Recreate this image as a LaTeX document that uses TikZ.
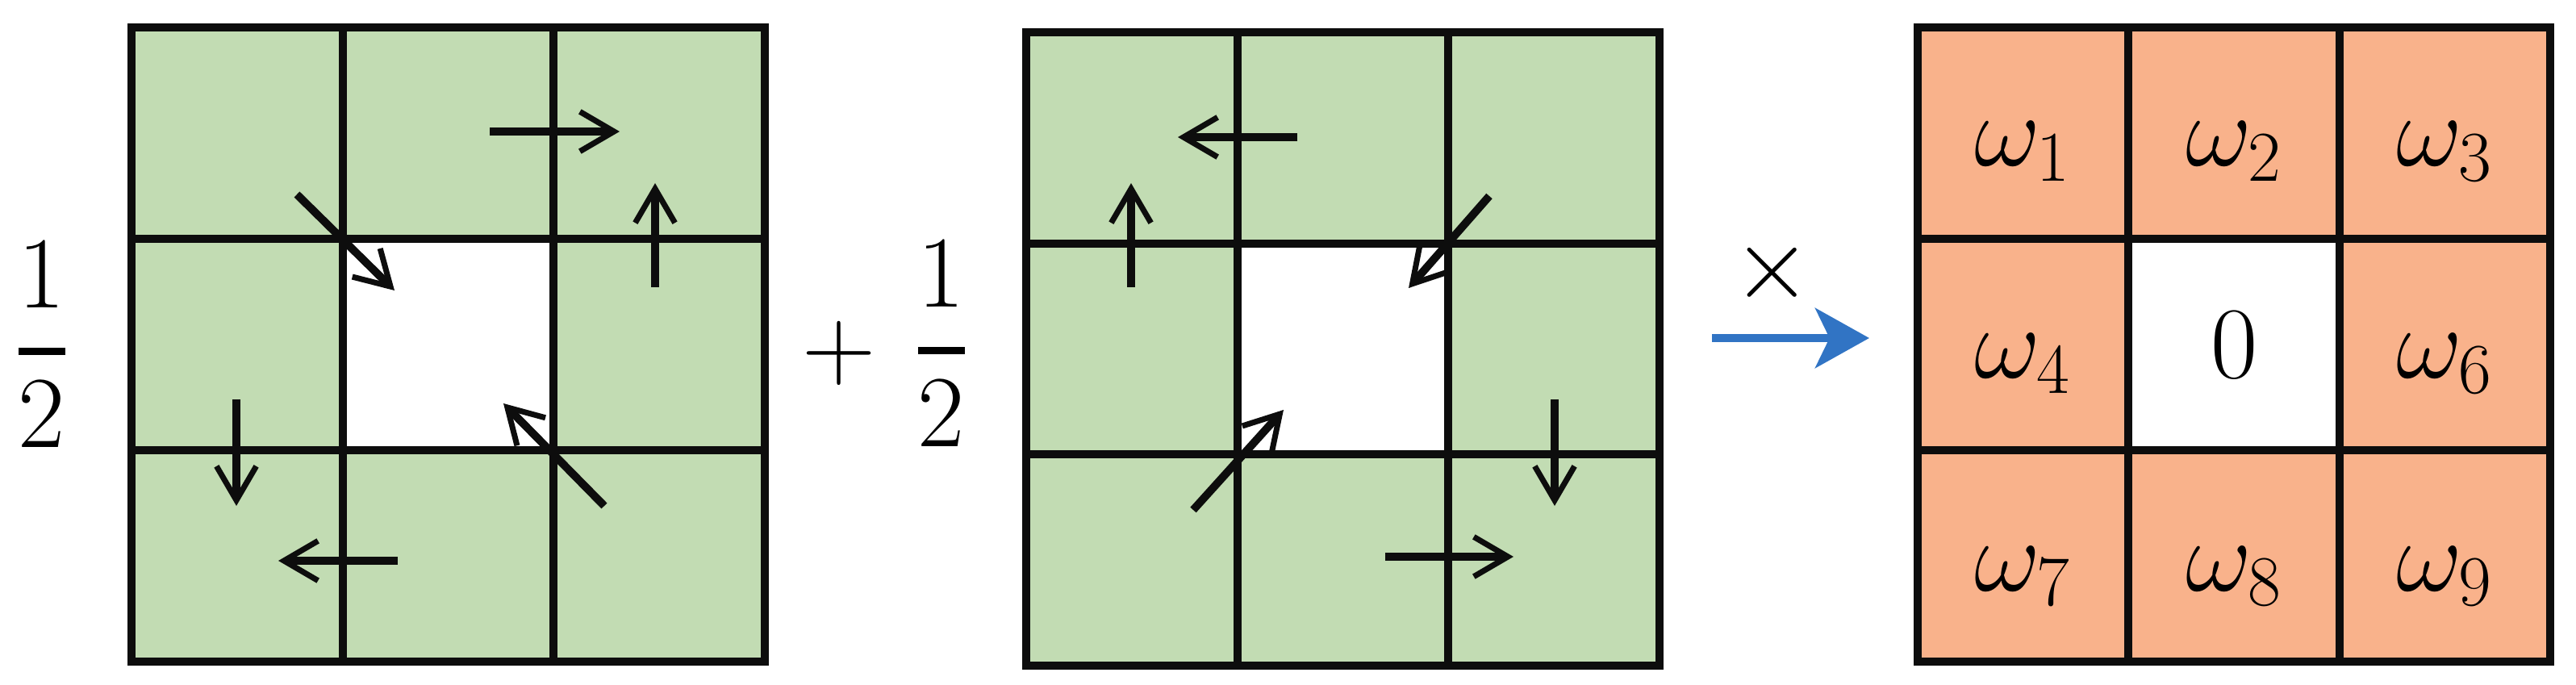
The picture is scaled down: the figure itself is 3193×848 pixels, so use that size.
\RequirePackage{fix-cm}
\documentclass[tikz,border=0pt]{standalone}
\usepackage{amsmath}
\usetikzlibrary{arrows.meta}

\definecolor{cellgreen}{HTML}{C2DCB3}
\definecolor{cellorange}{HTML}{F9B28B}
\definecolor{arrowblue}{HTML}{3174C4}
\definecolor{gridblack}{HTML}{0D0D0D}

\begin{document}
\begin{tikzpicture}[x=0.01cm,y=0.01cm,
  gridline/.style={draw=gridblack,line width=2.9pt},
  movearrow/.style={draw=gridblack,line width=2.8pt,-{Straight Barb[length=12pt,width=14pt,line width=2pt]}},
  bluearrow/.style={draw=arrowblue,fill=arrowblue,line width=3pt,-{Stealth[length=19pt,width=21pt,inset=5pt]}},
  bigtext/.style={font=\fontsize{36}{43}\selectfont,inner sep=0pt}]
\useasboundingbox (0,0) rectangle (3193,848);

% first kernel
\fill[cellgreen] (163,28) rectangle (948,814);
\fill[white] (425,290) rectangle (686,552);
\draw[gridline] (163,28) rectangle (948,814);
\draw[gridline] (425,28) -- (425,814);
\draw[gridline] (686,28) -- (686,814);
\draw[gridline] (163,290) -- (948,290);
\draw[gridline] (163,552) -- (948,552);

% second kernel
\fill[cellgreen] (1272,23) rectangle (2057,808);
\fill[white] (1534,285) rectangle (1795,546);
\draw[gridline] (1272,23) rectangle (2057,808);
\draw[gridline] (1534,23) -- (1534,808);
\draw[gridline] (1795,23) -- (1795,808);
\draw[gridline] (1272,285) -- (2057,285);
\draw[gridline] (1272,546) -- (2057,546);

% weights
\fill[cellorange] (2377,28) rectangle (3161,814);
\fill[white] (2638,290) rectangle (2900,552);
\draw[gridline] (2377,28) rectangle (3161,814);
\draw[gridline] (2638,28) -- (2638,814);
\draw[gridline] (2900,28) -- (2900,814);
\draw[gridline] (2377,290) -- (3161,290);
\draw[gridline] (2377,552) -- (3161,552);

% shifts, first kernel
\node[coordinate] (a1) at (607,685) {};
\node[coordinate] (a2) at (768,685) {};
\node[coordinate] (b1) at (812,492) {};
\node[coordinate] (b2) at (812,621) {};
\node[coordinate] (c1) at (368,607) {};
\node[coordinate] (c2) at (489,488) {};
\node[coordinate] (d1) at (293,353) {};
\node[coordinate] (d2) at (293,221) {};
\node[coordinate] (e1) at (493,153) {};
\node[coordinate] (e2) at (345,153) {};
\node[coordinate] (f1) at (749,221) {};
\node[coordinate] (f2) at (624,348) {};
\draw[movearrow] (a1) -- (a2);
\draw[movearrow] (b1) -- (b2);
\draw[movearrow] (c1) -- (c2);
\draw[movearrow] (d1) -- (d2);
\draw[movearrow] (e1) -- (e2);
\draw[movearrow] (f1) -- (f2);

% shifts, second kernel
\node[coordinate] (g1) at (1608,678) {};
\node[coordinate] (g2) at (1460,678) {};
\node[coordinate] (h1) at (1402,492) {};
\node[coordinate] (h2) at (1402,621) {};
\node[coordinate] (i1) at (1846,605) {};
\node[coordinate] (i2) at (1746,491) {};
\node[coordinate] (j1) at (1927,353) {};
\node[coordinate] (j2) at (1927,221) {};
\node[coordinate] (k1) at (1717,158) {};
\node[coordinate] (k2) at (1876,158) {};
\node[coordinate] (l1) at (1479,216) {};
\node[coordinate] (l2) at (1591,340) {};
\draw[movearrow] (g1) -- (g2);
\draw[movearrow] (h1) -- (h2);
\draw[movearrow] (i1) -- (i2);
\draw[movearrow] (j1) -- (j2);
\draw[movearrow] (k1) -- (k2);
\draw[movearrow] (l1) -- (l2);

% product arrow
\node[coordinate] (m1) at (2122,429) {};
\node[coordinate] (m2) at (2317,429) {};
\draw[bluearrow] (m1) -- (m2);
\node[bigtext] (times) at (2197,510) {$\times$};

% factors
\node[bigtext] (half1) at (52,421) {$\genfrac{}{}{2.8pt}{0}{1}{2}$};
\node[bigtext] (plus) at (1040,410) {$+$};
\node[bigtext] (half2) at (1167,422) {$\genfrac{}{}{2.8pt}{0}{1}{2}$};

% labels
\node[bigtext,anchor=base] (w1) at (2507,642) {$\omega_1$};
\node[bigtext,anchor=base] (w2) at (2769,642) {$\omega_2$};
\node[bigtext,anchor=base] (w3) at (3030,642) {$\omega_3$};
\node[bigtext,anchor=base] (w4) at (2507,379) {$\omega_4$};
\node[bigtext,anchor=base] (w5) at (2769,379) {$0$};
\node[bigtext,anchor=base] (w6) at (3030,379) {$\omega_6$};
\node[bigtext,anchor=base] (w7) at (2507,116) {$\omega_7$};
\node[bigtext,anchor=base] (w8) at (2769,116) {$\omega_8$};
\node[bigtext,anchor=base] (w9) at (3030,116) {$\omega_9$};
\end{tikzpicture}
\end{document}
